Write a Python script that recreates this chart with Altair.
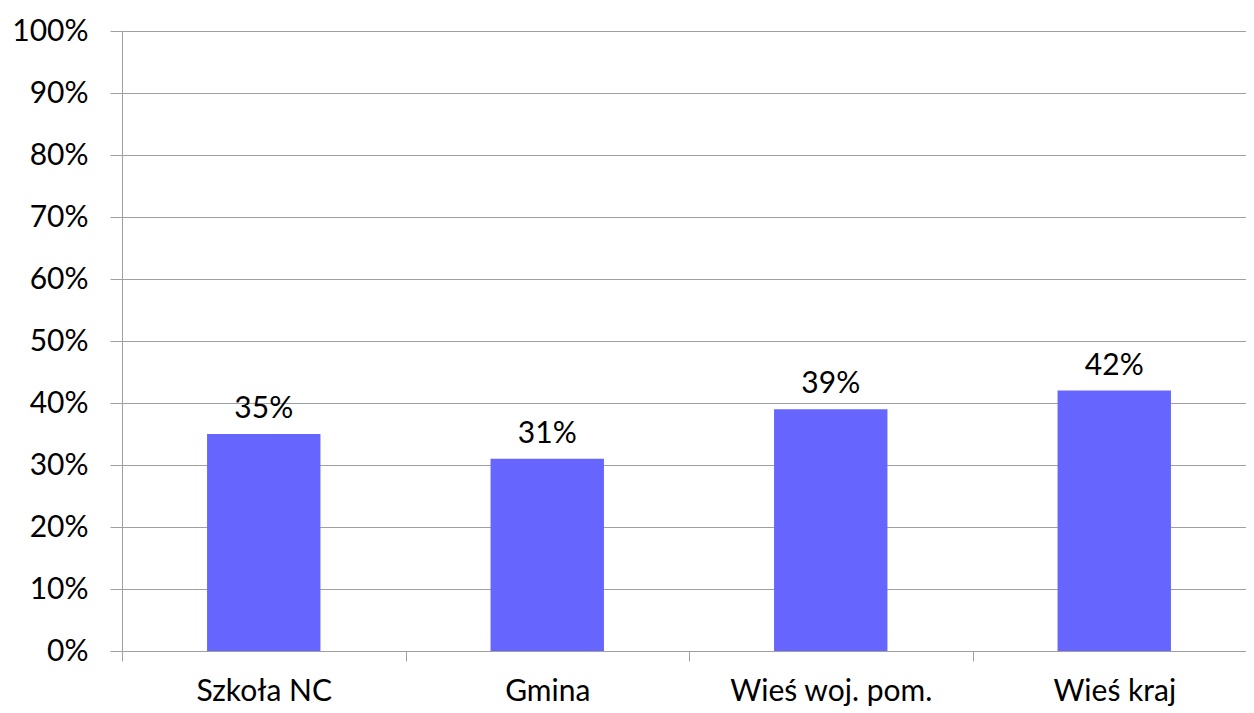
import altair as alt
import pandas as pd

categories = ["Szkoła NC", "Gmina", "Wieś woj. pom.", "Wieś kraj"]
values = [0.35, 0.31, 0.39, 0.42]
labels = ["35%", "31%", "39%", "42%"]

df = pd.DataFrame({"cat": categories, "val": values, "lab": labels})

FONT = "Lato"
FS = 30
GRID = "#a0a0a0"

x = alt.X("cat:N", sort=categories, title=None,
          scale=alt.Scale(paddingInner=0, paddingOuter=0, range=[0, 1134]),
          axis=alt.Axis(labelAngle=0, tickBand="extent", ticks=True, tickSize=10,
                        tickColor=GRID, domainColor=GRID, labelFont=FONT,
                        labelFontSize=FS, labelColor="black", labelPadding=15,
                        labelLimit=0, grid=False))
y = alt.Y("val:Q", title=None,
          scale=alt.Scale(domain=[0, 1], nice=False),
          axis=alt.Axis(values=[i / 10 for i in range(11)], format=".0%",
                        grid=True, gridColor=GRID, tickColor=GRID, domainColor=GRID,
                        tickSize=12, labelPadding=22, labelFont=FONT, labelFontSize=FS,
                        labelColor="black"))

bars = alt.Chart(df).mark_bar(color="#6666ff", width=alt.RelativeBandSize(0.4)).encode(x=x, y=y)
text = alt.Chart(df).mark_text(baseline="bottom", dy=-10, font=FONT, fontSize=FS,
                               color="black").encode(x=alt.X("cat:N", sort=categories),
                                                     y="val:Q", text="lab:N")

chart = alt.layer(bars, text).properties(
    width=1124, height=620,
    padding={"left": 114, "top": 23, "right": 0, "bottom": 56},
    autosize=alt.AutoSizeParams(type="none"),
).configure_view(stroke=None)

chart.save("out.html", embed_options={"renderer": "svg", "actions": False})
